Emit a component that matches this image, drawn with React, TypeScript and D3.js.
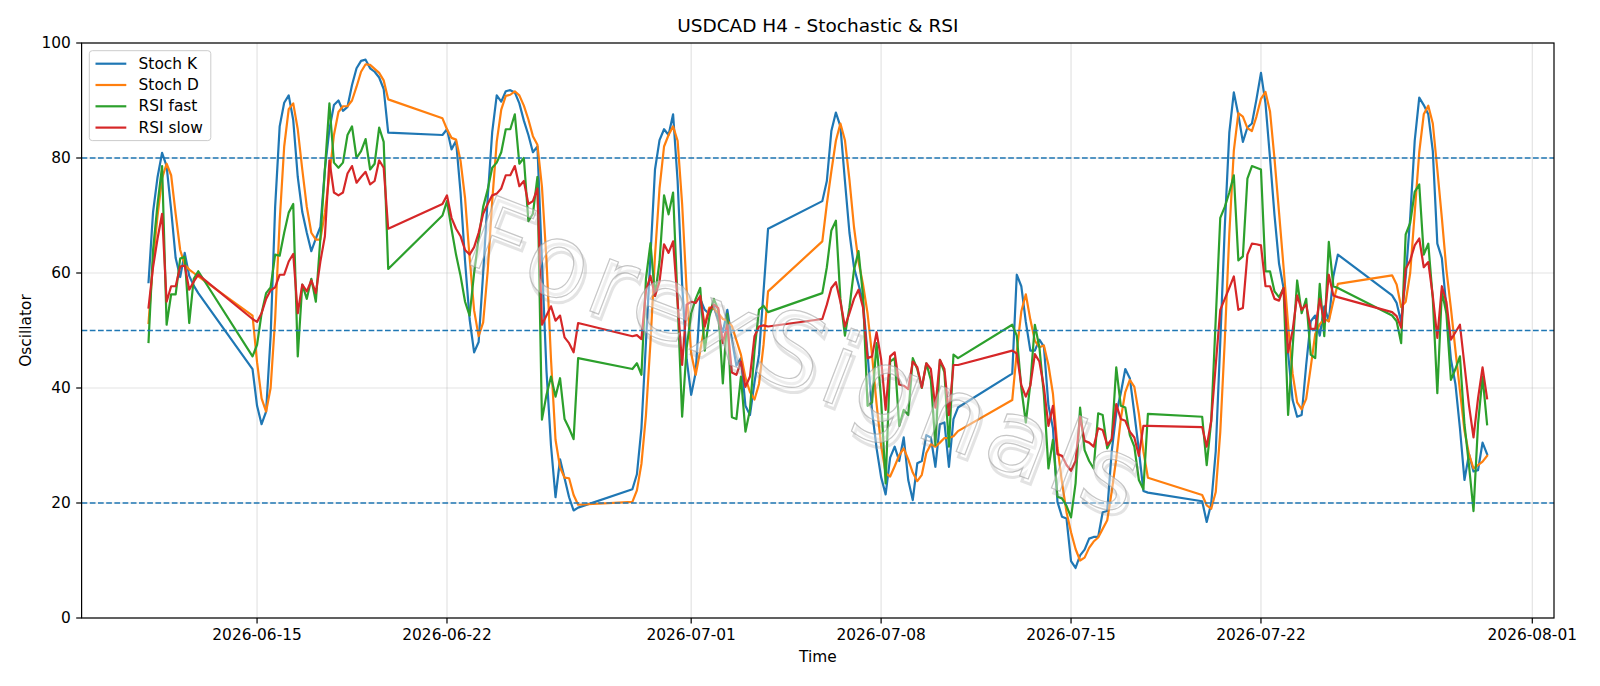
import React from 'react';
import * as d3 from 'd3';

// ---- figure geometry ----
const W = 1600;
const H = 686;
const M = { left: 81.6, right: 1554, top: 43, bottom: 618 };
const FONT = "'DejaVu Sans', 'Liberation Sans', sans-serif";
const FS = 15.4; // base text size

// ---- time axis: H4 sessions (start of each trading block, number of bars) ----
const BAR_HOURS = 4;
const sessions = [
  { start: '2026-06-11T00:00:00Z', bars: 12 },
  { start: '2026-06-14T20:00:00Z', bars: 31 },
  { start: '2026-06-21T20:00:00Z', bars: 31 },
  { start: '2026-06-28T20:00:00Z', bars: 31 },
  { start: '2026-07-05T20:00:00Z', bars: 31 },
  { start: '2026-07-12T20:00:00Z', bars: 31 },
  { start: '2026-07-19T20:00:00Z', bars: 31 },
  { start: '2026-07-26T20:00:00Z', bars: 22 },
];

// ---- oscillator values, one row per trading block ----
const stochK = [
  58.4, 70.6, 76.7, 80.9, 78.6, 71, 62.6, 59.3, 63.5, 59.5, 57.8, 56.5,
  43.3, 36.9, 33.7, 35.9, 49, 71.5, 85.5, 89.6, 90.9, 86.6, 76.7, 70.6, 67, 63.8, 66, 68, 78, 85, 89.2, 90, 88.2, 88.9, 92.7, 95.6, 96.9, 97.1, 95.6, 95, 94, 92, 84.4,
  84, 85, 81.5, 83, 74, 62, 52, 46.2, 48, 60, 73, 84.5, 90.9, 89.8, 91.6, 91.8, 91.4, 89.5, 86.5, 84, 81, 82, 62, 43, 30, 21, 27.6, 24.3, 21, 18.7, 19.2,
  22.4, 25, 33, 48, 63, 78, 83.1, 85, 84, 87.6, 76, 58, 45, 38.8, 42.7, 55.5, 53.6, 52.9, 54.2, 51.9, 49.7, 53.6, 48.4, 43.9, 45.2, 36.9, 35.3, 41, 45.8, 56.8, 67.7,
  72.5, 76, 84.7, 87.9, 85.5, 76, 67, 61, 58, 55, 46, 36, 29.5, 24.5, 21.5, 27.9, 29.8, 27.3, 31.4, 24, 20.5, 26.9, 27.3, 31.8, 31.4, 26.3, 33.7, 34, 26.3, 34.6, 36.6,
  42.5, 59.7, 57.7, 51.5, 46.5, 46.5, 48.4, 47.2, 37, 33, 20.2, 17.6, 17.3, 9.9, 8.7, 10.9, 11.9, 13.8, 14.1, 14.1, 18.4, 18.6, 29, 35.6, 39.1, 43.3, 41.7, 35.6, 29.2, 22.1, 21.8,
  20.3, 16.7, 19.9, 29, 48, 68, 84.4, 91.4, 87.5, 82.8, 85.3, 86, 90.2, 94.8, 89.5, 80, 70, 61.6, 57.4, 46, 37.9, 35, 35.3, 44, 51.6, 52.6, 49.1, 54.2, 51.6, 59.4, 63.2,
  56.1, 54.8, 51.5, 59.3, 69.6, 83, 90.5, 89.2, 87.6, 81.2, 65.1, 62.6, 54, 45, 40.7, 33, 24, 28.5, 25.5, 25.7, 30.5, 28.5,
];

const stochD = [
  51.3, 62, 70, 76.5, 79, 77, 70.3, 64, 61.5, 60.6, 60, 59.4,
  52.6, 44.5, 38.2, 35.9, 40, 52, 69, 82, 88.5, 89.5, 85, 78, 71.5, 67, 65.8, 65.8, 70.5, 77, 84, 88, 89, 89, 90, 92.4, 95, 96.3, 96.2, 95.5, 94.8, 93.5, 90.2,
  86.9, 85, 83.5, 83.2, 79.5, 73, 62.7, 53.5, 49, 51.4, 60.3, 72.5, 82.8, 88.4, 90.8, 91, 91.6, 90.9, 89.1, 86.7, 83.8, 82.3, 75, 62.3, 45, 31, 26.2, 24.4, 24.3, 21.4, 19.7,
  20.2, 22.2, 26.8, 35.3, 48, 63, 74.7, 82, 84, 85.5, 83, 72, 57, 46, 42.3, 46.5, 51, 54, 53.8, 53, 52, 51.7, 50.8, 48.3, 45.8, 41.8, 39.3, 38, 40.7, 47.5, 56.8,
  65.5, 72, 77.7, 83, 86, 83.1, 76.2, 68, 62, 58, 53, 45.7, 37.2, 30, 25.2, 24.6, 26.4, 28.3, 29.5, 27.6, 25.3, 23.8, 24.9, 28.7, 30.2, 29.8, 30.5, 31.3, 31.3, 31.6, 32.5,
  37.9, 46.3, 53.3, 56.3, 51.9, 48.2, 47.1, 47.4, 44, 39, 29.7, 23.6, 18.4, 14.9, 12, 10, 10.5, 12.2, 13.3, 14, 15.5, 17, 22, 27.7, 34.6, 39.3, 41.4, 40.2, 35.5, 29, 24.4,
  21.4, 19.6, 19, 21.9, 32.3, 48.3, 66.8, 81.3, 87.8, 87.2, 85.2, 84.7, 87.2, 90.3, 91.5, 88.1, 79.8, 70.5, 61, 51, 42.5, 37.5, 36.3, 38.1, 43.6, 49.4, 51.1, 52, 51.6, 55.1, 58.1,
  59.6, 58, 54.1, 55, 60, 70.5, 81, 87.6, 89.1, 86, 78, 69.6, 60.6, 53.9, 46.6, 39.6, 32.6, 28.5, 26, 26.6, 27.2, 28.2,
];

const rsiFast = [
  48, 64, 72, 78.6, 51, 56.3, 56.3, 62.5, 62.8, 51.3, 59, 60.3,
  45.5, 47.5, 53, 56.5, 57.5, 63.2, 63, 67, 70.5, 72, 45.5, 58, 55.5, 59, 55, 66, 78, 89.5, 79.2, 78.3, 79.2, 84, 85.5, 80, 81.2, 83.3, 78, 79, 85.3, 82.8, 60.7,
  70, 72.5, 67.7, 63.2, 59.5, 55, 52.6, 60, 66, 71.5, 74.5, 78.3, 79.2, 81, 85, 85, 87.6, 79, 80, 69, 70.3, 76.7, 34.5, 38.8, 42, 38.5, 41.7, 34.6, 33, 31.1, 45.2,
  43.3, 44.3, 42.3, 59, 65.2, 56, 62, 73.5, 70.2, 74, 55, 35, 47, 53, 55.5, 57.4, 46.5, 52.3, 55.5, 53.6, 40.8, 52.9, 34.9, 34.6, 42, 32.4, 36.2, 46.5, 53.6, 54.3, 53.2,
  56.5, 61, 67.4, 69.1, 55.5, 49.1, 54, 60.5, 63.8, 56, 36.9, 37.5, 47.8, 38, 23.4, 44.6, 45.2, 33.4, 36.2, 35.3, 45.2, 43.3, 40, 44.3, 41.4, 30.1, 44.9, 42.7, 29.8, 45.8, 45.2,
  51, 49.1, 40, 34, 40.7, 51, 47.1, 38.8, 26, 31, 21.1, 20.8, 19.5, 17.5, 23.4, 36.6, 29.2, 27.3, 26, 35.6, 35.3, 29.5, 31.1, 43.6, 36.9, 36.6, 31.8, 29.8, 24, 22.4, 35.5,
  35, 26.6, 34.3, 52, 69.6, 71.5, 74, 77, 62.2, 62.9, 76.4, 78.6, 78.3, 78, 60.3, 60.3, 56.8, 55.8, 57.4, 35.3, 47, 58.7, 53, 55.5, 45.8, 45.2, 58.1, 49, 65.4, 57.7, 57.4,
  52.6, 51.6, 47.8, 66.7, 68.7, 74.1, 75.4, 63.2, 65.1, 55.5, 39.1, 56.8, 53, 41.4, 43.3, 45.5, 33.7, 26.6, 18.6, 33.7, 42, 33.7,
];

const rsiSlow = [
  54, 61, 66, 70.3, 55, 57.7, 57.7, 61.1, 61.3, 57.1, 58.5, 59.7,
  52, 51.5, 53, 55.5, 57, 57.5, 59.7, 59.7, 62, 63.3, 53, 58, 56.8, 58.7, 56.5, 62, 66.4, 79.6, 74, 73.5, 74, 77.3, 78.6, 75.7, 76.7, 77.6, 75.4, 76, 79.6, 78.3, 67.7,
  72, 73.5, 69.6, 67.7, 66.4, 64, 63.2, 64.5, 67, 70.3, 72, 73.5, 73.8, 74.7, 77, 77, 78.6, 75.1, 76, 72, 72.5, 74.7, 51, 52.6, 54.2, 51.7, 52.6, 48.8, 47.8, 46.2, 51.3,
  49, 49.2, 48.5, 57, 59.5, 56, 58.5, 65, 63.5, 65.5, 55, 44, 54.5, 55, 54.8, 56, 50.7, 53.6, 54.5, 53.9, 47.8, 51, 42.7, 42.3, 44.6, 40.2, 42, 49, 50.7, 50.9, 50.7,
  52, 54.5, 57.4, 58.4, 55, 50.7, 53, 55.5, 57.1, 54, 45.2, 45.5, 49.7, 45, 36.2, 45.5, 46.2, 40.6, 40.4, 39.8, 44.6, 43.6, 40.1, 44.3, 43.3, 36.6, 44.9, 43.3, 35.3, 44, 44,
  46.5, 46, 40.5, 38.5, 40.4, 45.9, 44.6, 40.1, 33.4, 36.9, 28.5, 28.2, 26.6, 25.6, 27.3, 35, 30.8, 30.5, 29.8, 33, 32.7, 30.1, 31.1, 37.2, 34.6, 34.3, 32.4, 31.4, 28.2, 33.4, 33.4,
  33.2, 29.8, 34.3, 44, 53.6, 55.5, 57.4, 59.4, 53.6, 53.9, 63.2, 65.1, 65, 64.8, 57.7, 57.7, 55.5, 55.2, 57.4, 46.2, 50, 56.1, 53.6, 54.5, 50.3, 50.3, 55.5, 51.5, 59.7, 56.1, 55.8,
  53.2, 52.5, 50.5, 60.7, 62.2, 64.8, 66, 61, 61.9, 56, 48.7, 57.7, 55, 48.4, 49.7, 51, 44, 37, 31.4, 38.2, 43.6, 38.2,
];

const seriesNames = ['Stoch K', 'Stoch D', 'RSI fast', 'RSI slow'];
const seriesColors = ['#1f77b4', '#ff7f0e', '#2ca02c', '#d62728'];
const yTicks = [0, 20, 40, 60, 80, 100];
const xTickDates = ['2026-06-15', '2026-06-22', '2026-07-01', '2026-07-08', '2026-07-15', '2026-07-22', '2026-08-01'];
const levels = [80, 50, 20];
const titleText = 'USDCAD H4 - Stochastic & RSI';
const watermarkText = 'ForexSignals';

// bar timestamps
const times: Date[] = sessions.flatMap((s) => {
  const t0 = new Date(s.start).getTime();
  return d3.range(s.bars).map((i) => new Date(t0 + i * BAR_HOURS * 3600e3));
});

export default function App() {
  const tMin = times[0].getTime();
  const tMax = times[times.length - 1].getTime();
  const pad = (tMax - tMin) * 0.05;
  const x = d3.scaleUtc().domain([new Date(tMin - pad), new Date(tMax + pad)]).range([M.left, M.right]);
  const y = d3.scaleLinear().domain([0, 100]).range([M.bottom, M.top]);
  const fmt = d3.utcFormat('%Y-%m-%d');
  const xTicks = xTickDates.map((d) => new Date(d + 'T00:00:00Z'));

  const allSeries = [stochK, stochD, rsiFast, rsiSlow];
  const lineGen = (vals: number[]) =>
    d3
      .line<number>()
      .x((_, i) => x(times[i]))
      .y((d) => y(d))(vals.slice(0, times.length)) || '';

  const tickLen = 5.4;
  const tickPad = 5.4;

  // legend layout
  const lg = { x: 89.3, y: 50.7, w: 121.5, pad: 6.2, rowH: 13.6, gap: 7.7 };
  const lgH = lg.pad * 2 + seriesNames.length * lg.rowH + (seriesNames.length - 1) * lg.gap;

  const cx = (M.left + M.right) / 2;
  const cy = (M.top + M.bottom) / 2;

  return (
    <svg
      width={W}
      height={H}
      viewBox={`0 0 ${W} ${H}`}
      style={{ position: 'absolute', left: 0, top: 0, background: '#fff' }}
      fontFamily={FONT}
    >
      <rect x={0} y={0} width={W} height={H} fill="#fff" />

      {/* grid */}
      <g stroke="#b0b0b0" strokeOpacity={0.35} strokeWidth={1.2}>
        {yTicks.map((t) => (
          <line key={'gy' + t} x1={M.left} x2={M.right} y1={y(t)} y2={y(t)} />
        ))}
        {xTicks.map((t) => (
          <line key={'gx' + t.getTime()} x1={x(t)} x2={x(t)} y1={M.top} y2={M.bottom} />
        ))}
      </g>

      {/* oscillator lines */}
      <g fill="none" strokeWidth={2.2} strokeLinejoin="round" strokeLinecap="square">
        {allSeries.map((vals, i) => (
          <path key={seriesNames[i]} d={lineGen(vals)} stroke={seriesColors[i]} />
        ))}
      </g>

      {/* reference levels */}
      <g stroke="#1f77b4" strokeWidth={1.5} strokeDasharray="5.7 2.5">
        {levels.map((l) => (
          <line key={'lv' + l} x1={M.left} x2={M.right} y1={y(l)} y2={y(l)} />
        ))}
      </g>

      {/* watermark */}
      <g
        transform={`translate(${cx - 10},${cy + 26}) rotate(21)`}
        fontSize={102}
        fontFamily={FONT}
        letterSpacing={6}
      >
        <text
          x={4}
          y={4}
          textAnchor="middle"
          dominantBaseline="central"
          fill="none"
          stroke="#808080"
          strokeWidth={3}
          strokeOpacity={0.22}
        >
          {watermarkText}
        </text>
        <text
          textAnchor="middle"
          dominantBaseline="central"
          fill="#ffffff"
          fillOpacity={0.4}
          stroke="#a0a0a0"
          strokeWidth={1.2}
          strokeOpacity={0.6}
        >
          {watermarkText}
        </text>
      </g>

      {/* spines */}
      <rect
        x={M.left}
        y={M.top}
        width={M.right - M.left}
        height={M.bottom - M.top}
        fill="none"
        stroke="#000"
        strokeWidth={1.2}
      />

      {/* y axis */}
      <g fontSize={FS} fill="#000">
        {yTicks.map((t) => (
          <g key={'yt' + t}>
            <line x1={M.left - tickLen} x2={M.left} y1={y(t)} y2={y(t)} stroke="#000" strokeWidth={1.2} />
            <text x={M.left - tickLen - tickPad} y={y(t)} textAnchor="end" dominantBaseline="central">
              {t}
            </text>
          </g>
        ))}
      </g>

      {/* x axis */}
      <g fontSize={FS} fill="#000">
        {xTicks.map((t) => (
          <g key={'xt' + t.getTime()}>
            <line x1={x(t)} x2={x(t)} y1={M.bottom} y2={M.bottom + tickLen} stroke="#000" strokeWidth={1.2} />
            <text x={x(t)} y={639.5} textAnchor="middle">
              {fmt(t)}
            </text>
          </g>
        ))}
      </g>

      {/* labels */}
      <text x={(M.left + M.right) / 2} y={661.5} textAnchor="middle" fontSize={FS}>
        Time
      </text>
      <text
        transform={`translate(25.5,${(M.top + M.bottom) / 2}) rotate(-90)`}
        textAnchor="middle"
        dominantBaseline="central"
        fontSize={FS}
      >
        Oscillator
      </text>
      <text x={(M.left + M.right) / 2} y={32} textAnchor="middle" fontSize={18.5}>
        {titleText}
      </text>

      {/* legend */}
      <g>
        <rect
          x={lg.x}
          y={lg.y}
          width={lg.w}
          height={lgH}
          rx={3}
          fill="#fff"
          fillOpacity={0.8}
          stroke="#cccccc"
          strokeWidth={1}
        />
        {seriesNames.map((name, i) => {
          const ry = lg.y + lg.pad + lg.rowH / 2 + i * (lg.rowH + lg.gap);
          return (
            <g key={'lg' + name}>
              <line
                x1={lg.x + lg.pad}
                x2={lg.x + lg.pad + 30.8}
                y1={ry}
                y2={ry}
                stroke={seriesColors[i]}
                strokeWidth={2.2}
              />
              <text x={lg.x + lg.pad + 30.8 + 12.3} y={ry} dominantBaseline="central" fontSize={FS}>
                {name}
              </text>
            </g>
          );
        })}
      </g>
    </svg>
  );
}
